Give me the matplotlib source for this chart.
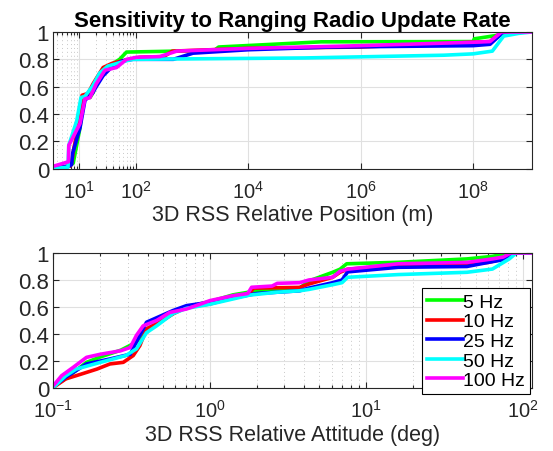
import matplotlib
matplotlib.use("Agg")
import matplotlib.pyplot as plt
from matplotlib.ticker import FixedLocator, FuncFormatter, LogFormatterSciNotation

plt.rcParams["font.family"] = ["Liberation Sans", "DejaVu Sans"]
plt.rcParams["mathtext.default"] = "regular"

labels = ["5 Hz", "10 Hz", "25 Hz", "50 Hz", "100 Hz"]
colors = ["#00ff00", "#ff0000", "#0000ff", "#00ffff", "#ff00ff"]

# --- top panel: 3D RSS relative position (m), empirical CDFs
pos_5_x = [3.45, 6.8, 7.8, 10.3, 11.8, 15.5, 17.8, 20, 28, 40, 52, 69, 2500, 3000, 2e5, 1e8, 1.05e8, 6.6e8, 1.1e9]
pos_5_y = [0.0, 0.02, 0.04, 0.30, 0.52, 0.52, 0.56, 0.65, 0.73, 0.77, 0.80, 0.853, 0.865, 0.89, 0.928, 0.93, 0.95, 1.0, 1.0]
pos_10_x = [3.45, 7.0, 7.3, 8.0, 9.5, 11.2, 14.3, 17.5, 21.5, 26.5, 38, 52, 80, 120, 320, 450, 1e4, 1e6, 1e8, 2e8, 3.2e8, 1.1e9]
pos_10_y = [0.0, 0.02, 0.04, 0.15, 0.30, 0.537, 0.55, 0.62, 0.68, 0.74, 0.77, 0.785, 0.80, 0.815, 0.82, 0.86, 0.88, 0.89, 0.925, 0.93, 1.0, 1.0]
pos_25_x = [3.45, 6.8, 7.3, 7.6, 10.3, 12.6, 17, 20, 26.5, 35, 47, 60, 90, 470, 1050, 1e4, 3e5, 1e8, 2e8, 3.5e8, 1.1e9]
pos_25_y = [0.0, 0.02, 0.03, 0.11, 0.30, 0.50, 0.55, 0.60, 0.68, 0.73, 0.77, 0.79, 0.80, 0.80, 0.845, 0.87, 0.89, 0.90, 0.91, 1.0, 1.0]
pos_50_x = [3.45, 6.3, 6.5, 9.0, 10.7, 12.6, 17, 23, 32, 47, 70, 90, 1e5, 3e7, 1e8, 2.2e8, 3.5e8, 6.5e8, 1.1e9]
pos_50_y = [0.0, 0.01, 0.17, 0.35, 0.52, 0.53, 0.60, 0.70, 0.75, 0.77, 0.79, 0.80, 0.81, 0.83, 0.84, 0.86, 0.97, 0.99, 1.0]
pos_100_x = [3.45, 6.4, 6.5, 10.3, 12.6, 15.5, 20, 28.6, 46, 69, 104, 270, 540, 1e4, 1e6, 1e8, 2e8, 3.2e8, 1.1e9]
pos_100_y = [0.017, 0.05, 0.17, 0.33, 0.51, 0.52, 0.62, 0.72, 0.74, 0.80, 0.815, 0.82, 0.86, 0.88, 0.90, 0.925, 0.93, 1.0, 1.0]

# --- bottom panel: 3D RSS relative attitude (deg)
att_5_x = [0.1, 0.12, 0.163, 0.2, 0.27, 0.34, 0.394, 0.48, 0.58, 0.71, 1.0, 1.41, 2.0, 3.75, 4.35, 6.1, 6.8, 7.5, 16, 44, 64, 82, 114]
att_5_y = [0.01, 0.07, 0.19, 0.23, 0.28, 0.34, 0.437, 0.49, 0.55, 0.60, 0.64, 0.69, 0.72, 0.74, 0.795, 0.857, 0.88, 0.92, 0.931, 0.956, 0.975, 1.0, 1.0]
att_10_x = [0.1, 0.12, 0.148, 0.19, 0.23, 0.28, 0.324, 0.357, 0.394, 0.48, 0.58, 0.71, 1.0, 1.8, 1.9, 3.75, 4.3, 6.1, 6.8, 7.6, 16, 44, 60, 75, 86, 114]
att_10_y = [0.004, 0.067, 0.10, 0.14, 0.178, 0.19, 0.24, 0.313, 0.437, 0.487, 0.548, 0.598, 0.622, 0.70, 0.74, 0.745, 0.77, 0.82, 0.857, 0.88, 0.906, 0.919, 0.93, 0.956, 1.0, 1.0]
att_25_x = [0.1, 0.12, 0.163, 0.23, 0.31, 0.357, 0.394, 0.58, 0.71, 1.0, 1.8, 2.0, 3.75, 4.3, 6.1, 7.0, 7.6, 16, 44, 60, 75, 86, 114]
att_25_y = [0.01, 0.08, 0.178, 0.215, 0.25, 0.39, 0.487, 0.573, 0.61, 0.635, 0.69, 0.70, 0.72, 0.74, 0.78, 0.80, 0.86, 0.894, 0.90, 0.93, 0.95, 1.0, 1.0]
att_50_x = [0.1, 0.12, 0.14, 0.2, 0.29, 0.34, 0.394, 0.457, 0.58, 0.71, 1.0, 1.8, 2.67, 3.75, 4.3, 6.1, 7.0, 7.6, 16, 44, 64, 82, 91, 114]
att_50_y = [0.004, 0.09, 0.14, 0.19, 0.24, 0.29, 0.41, 0.46, 0.55, 0.59, 0.62, 0.688, 0.709, 0.72, 0.73, 0.765, 0.78, 0.82, 0.84, 0.857, 0.881, 0.956, 1.0, 1.0]
att_100_x = [0.1, 0.113, 0.134, 0.163, 0.2, 0.27, 0.31, 0.34, 0.375, 0.457, 0.556, 0.71, 0.863, 1.0, 1.41, 1.75, 1.85, 2.5, 2.7, 3.75, 4.3, 6.1, 6.8, 7.6, 16, 44, 64, 75, 84, 114]
att_100_y = [0.017, 0.091, 0.153, 0.227, 0.25, 0.276, 0.30, 0.39, 0.46, 0.50, 0.56, 0.585, 0.62, 0.647, 0.684, 0.70, 0.746, 0.755, 0.775, 0.78, 0.80, 0.82, 0.865, 0.88, 0.92, 0.93, 0.956, 0.97, 1.0, 1.0]

pos_series = [(pos_5_x, pos_5_y), (pos_10_x, pos_10_y), (pos_25_x, pos_25_y),
              (pos_50_x, pos_50_y), (pos_100_x, pos_100_y)]
att_series = [(att_5_x, att_5_y), (att_10_x, att_10_y), (att_25_x, att_25_y),
              (att_50_x, att_50_y), (att_100_x, att_100_y)]

y_ticks = [0, 0.2, 0.4, 0.6, 0.8, 1.0]
pos_major = [1e1, 1e2, 1e4, 1e6, 1e8]
pos_minor = [4, 5, 6, 7, 8, 9, 20, 30, 40, 50, 60, 70, 80, 90]
att_major = [0.1, 1, 10, 100]
att_minor = [m * d for d in (0.1, 1, 10) for m in range(2, 10)]

fig = plt.figure(figsize=(5.53, 4.52), dpi=100)
ax1 = fig.add_axes([0.0964, 0.6248, 0.865, 0.3022])
ax2 = fig.add_axes([0.0964, 0.1394, 0.865, 0.2987])

ink = "#262626"


def style(ax, xlim, major, minor, xlabel):
    ax.set_xscale("log")
    ax.set_xlim(*xlim)
    ax.set_ylim(0, 1)
    ax.xaxis.set_major_locator(FixedLocator(major))
    ax.xaxis.set_minor_locator(FixedLocator(minor))
    ax.xaxis.set_major_formatter(LogFormatterSciNotation())
    ax.xaxis.set_minor_formatter(FuncFormatter(lambda v, p: ""))
    ax.set_yticks(y_ticks)
    ax.yaxis.set_major_formatter(FuncFormatter(lambda v, p: "%g" % v))
    ax.grid(True, which="major", color="#e0e0e0", lw=0.8)
    ax.grid(True, which="minor", axis="x", color="#c8c8c8", lw=0.7, ls=(0, (1, 3)))
    ax.set_axisbelow(True)
    ax.tick_params(which="both", direction="in", top=True, right=True,
                   colors=ink, width=0.8)
    ax.tick_params(axis="y", labelsize=16, pad=3)
    ax.tick_params(axis="x", labelsize=14.5, pad=8)
    ax.tick_params(which="major", length=4)
    ax.tick_params(which="minor", length=2)
    for s in ax.spines.values():
        s.set_color(ink)
        s.set_linewidth(0.8)
    ax.set_xlabel(xlabel, fontsize=15.5, color=ink, labelpad=2)


for (x, y), c, lab in zip(pos_series, colors, labels):
    ax1.plot(x, y, color=c, lw=2.6, label=lab)
for (x, y), c, lab in zip(att_series, colors, labels):
    ax2.plot(x, y, color=c, lw=2.6, label=lab)

style(ax1, (3.45, 1.1e9), pos_major, pos_minor, "3D RSS Relative Position (m)")
style(ax2, (0.1, 114), att_major, att_minor, "3D RSS Relative Attitude (deg)")

ax1.set_title("Sensitivity to Ranging Radio Update Rate", fontsize=16,
              fontweight="bold", pad=4)

leg = ax2.legend(loc="lower right", bbox_to_anchor=(0.997, -0.044),
                 borderaxespad=0, fontsize=14, fancybox=False, framealpha=1,
                 edgecolor="black", handlelength=1.9, handletextpad=0.0,
                 labelspacing=0.1, borderpad=0.25)
leg.get_frame().set_linewidth(0.8)

fig.savefig("out.png", dpi=100)
